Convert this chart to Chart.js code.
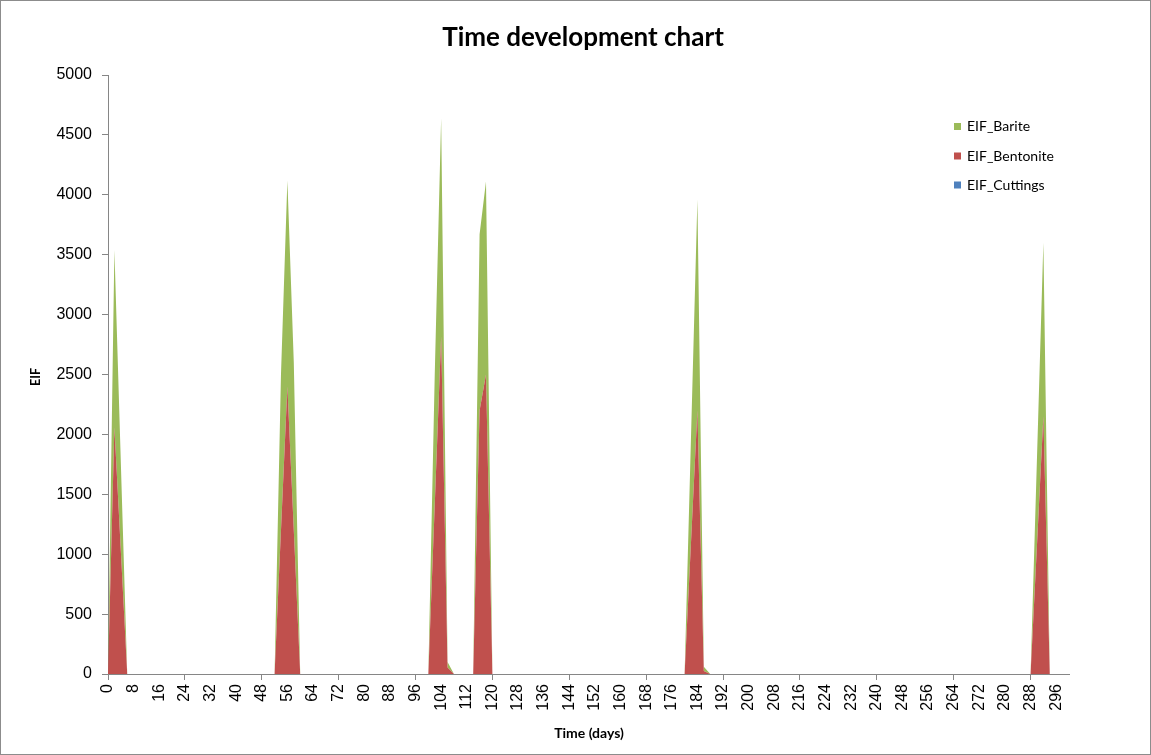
<!DOCTYPE html>
<html><head><meta charset="utf-8">
<script src="https://cdn.jsdelivr.net/npm/chart.js@4/dist/chart.umd.min.js"></script>
<style>html,body{margin:0;padding:0;background:#fff;overflow:hidden}canvas{display:block}</style>
</head><body>
<canvas id="c" width="1151" height="755"></canvas>
<script>
const chartTitle = 'Time development chart';
const xTitle = 'Time (days)';
const yTitle = 'EIF';
const seriesNames = ['EIF_Cuttings', 'EIF_Bentonite', 'EIF_Barite'];
const seriesColors = ['#4F81BD', '#C0504D', '#9BBB59'];

// time categories (days), one every 2 days from 0 to 300
const firstDay = 0, lastDay = 300, dayStep = 2;
const days = [];
for (let d = firstDay; d <= lastDay; d += dayStep) days.push(String(d));

// days on which EIF is non-zero (every other day is 0)
const activeDays      = [2, 4,   54, 56, 58,   102, 104, 106,   116, 118,   182, 184, 186,   290, 292];
const bentoniteActive = [2060, 1030, 1200, 2400, 1200, 1410, 2820, 55, 2200, 2500, 1100, 2200, 25, 1075, 2150];
const bariteActive    = [1480, 740,  1300, 1720, 1400, 1090, 1820, 45, 1470, 1610, 880,  1760, 35, 725,  1450];
const cuttingsActive  = [0, 0, 0, 0, 0, 0, 0, 0, 0, 0, 0, 0, 0, 0, 0];

const yMin = 0, yMax = 5000, yStep = 500;

function expand(vals) {
  return days.map(d => {
    const i = activeDays.indexOf(Number(d));
    return i >= 0 ? vals[i] : 0;
  });
}
const cuttings = expand(cuttingsActive);
const bentonite = expand(bentoniteActive);
const barite = expand(bariteActive);

const axisGray = '#868686';

const decor = {
  id: 'decor',
  beforeDraw(chart) {
    const ctx = chart.ctx;
    ctx.save();
    ctx.fillStyle = '#fff';
    ctx.fillRect(0, 0, chart.width, chart.height);
    ctx.restore();
  },
  afterDraw(chart) {
    const ctx = chart.ctx;
    ctx.save();
    ctx.fillStyle = '#000';
    ctx.textAlign = 'center';
    ctx.textBaseline = 'middle';
    ctx.font = 'bold 26px Lato';
    ctx.fillText(chartTitle, 583, 38);
    ctx.font = 'bold 14px Lato';
    ctx.fillText(xTitle, 589, 733);
    ctx.save();
    ctx.translate(36, 377);
    ctx.rotate(-Math.PI / 2);
    ctx.font = 'bold 12.5px Lato';
    ctx.fillText(yTitle, 0, 0);
    ctx.restore();
    // legend (reverse order, like the stacked area legend)
    const rows = [126.5, 156, 185];
    ctx.textAlign = 'left';
    ctx.font = '14px Lato';
    for (let r = 0; r < 3; r++) {
      const k = 2 - r;
      ctx.fillStyle = seriesColors[k];
      ctx.fillRect(954, rows[r] - 3.5, 7, 7);
      ctx.fillStyle = '#000';
      ctx.fillText(seriesNames[k], 967, rows[r]);
    }
    // outer frame
    ctx.strokeStyle = '#8c8c8c';
    ctx.lineWidth = 1;
    ctx.strokeRect(0.5, 0.5, chart.width - 1, chart.height - 1);
    ctx.restore();
  }
};

const mk = (i, data, fill) => ({
  label: seriesNames[i],
  data: data,
  backgroundColor: seriesColors[i],
  borderColor: seriesColors[i],
  borderWidth: 0,
  pointRadius: 0,
  pointHoverRadius: 0,
  tension: 0,
  fill: fill
});

new Chart(document.getElementById('c'), {
  type: 'line',
  data: {
    labels: days,
    datasets: [mk(0, cuttings, 'origin'), mk(1, bentonite, '-1'), mk(2, barite, '-1')]
  },
  options: {
    responsive: false,
    animation: false,
    events: [],
    layout: { padding: { left: 0, top: 75, right: 82, bottom: 0 } },
    plugins: { legend: { display: false }, title: { display: false }, tooltip: { enabled: false } },
    scales: {
      x: {
        type: 'category',
        offset: false,
        afterFit: s => { s.height = 81; },
        border: { display: true, color: axisGray, width: 1 },
        grid: {
          drawOnChartArea: false,
          drawTicks: true,
          tickLength: 6,
          color: c => (c.tick && c.tick.value % 12 === 0) ? axisGray : 'rgba(0,0,0,0)'
        },
        ticks: {
          autoSkip: false,
          minRotation: 90,
          maxRotation: 90,
          padding: 4,
          color: '#000',
          font: { family: 'Liberation Sans', size: 16 },
          callback: function (v, i) { return i % 4 === 0 ? days[i] : null; }
        }
      },
      y: {
        stacked: true,
        min: yMin,
        max: yMax,
        afterFit: s => { s.width = 108; },
        border: { display: true, color: axisGray, width: 1 },
        grid: { drawOnChartArea: false, drawTicks: true, tickLength: 6, color: axisGray },
        ticks: {
          stepSize: yStep,
          padding: 10,
          color: '#000',
          font: { family: 'Liberation Sans', size: 16 },
          callback: v => String(v)
        }
      }
    }
  },
  plugins: [decor]
});
</script>
</body></html>
